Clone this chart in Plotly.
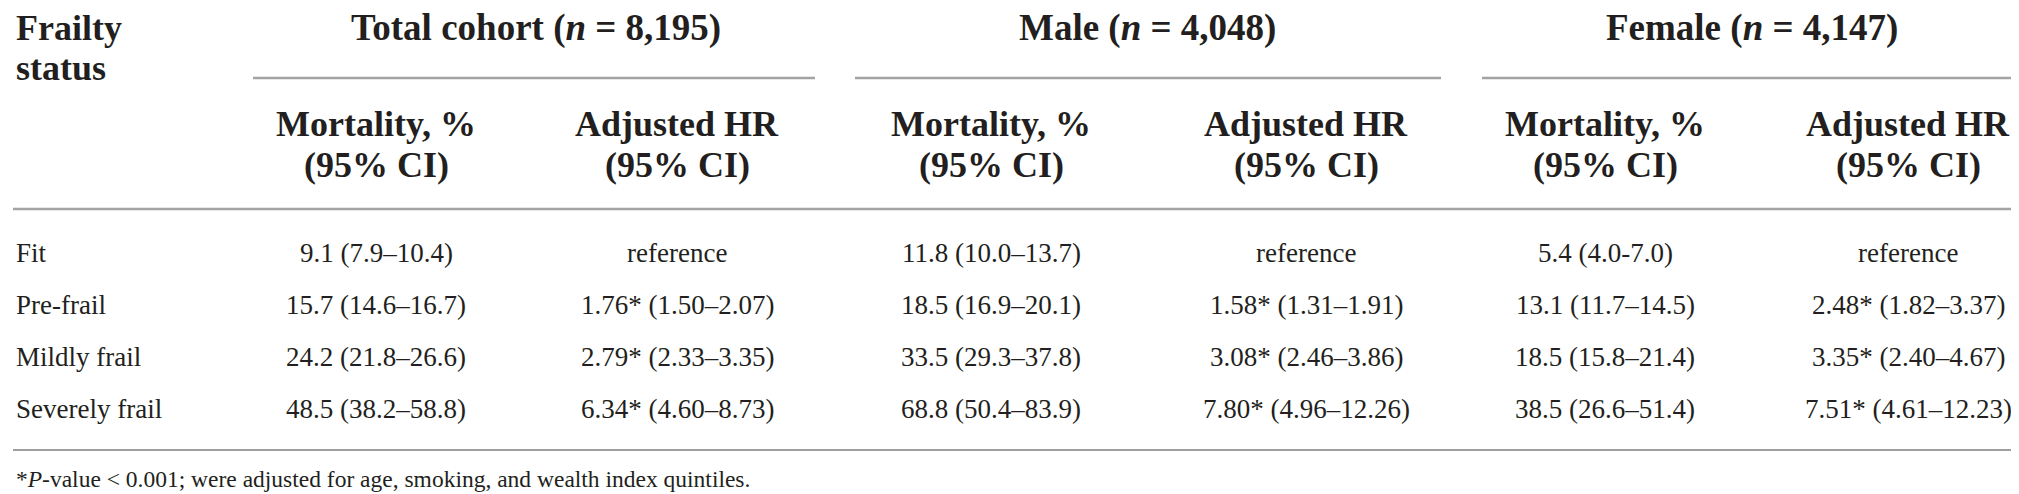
import plotly.graph_objects as go

# ---------------- data ----------------
frailty_status = ["Fit", "Pre-frail", "Mildly frail", "Severely frail"]

total_mortality = ["9.1 (7.9–10.4)", "15.7 (14.6–16.7)", "24.2 (21.8–26.6)", "48.5 (38.2–58.8)"]
total_hr = ["reference", "1.76* (1.50–2.07)", "2.79* (2.33–3.35)", "6.34* (4.60–8.73)"]

male_mortality = ["11.8 (10.0–13.7)", "18.5 (16.9–20.1)", "33.5 (29.3–37.8)", "68.8 (50.4–83.9)"]
male_hr = ["reference", "1.58* (1.31–1.91)", "3.08* (2.46–3.86)", "7.80* (4.96–12.26)"]

female_mortality = ["5.4 (4.0-7.0)", "13.1 (11.7–14.5)", "18.5 (15.8–21.4)", "38.5 (26.6–51.4)"]
female_hr = ["reference", "2.48* (1.82–3.37)", "3.35* (2.40–4.67)", "7.51* (4.61–12.23)"]

group_names = ["Total cohort", "Male", "Female"]
group_n = ["8,195", "4,048", "4,147"]
sub_header_1 = ["Mortality, %", "Adjusted HR"]
sub_header_2 = ["(95% CI)", "(95% CI)"]
stub_header = ["Frailty", "status"]
footnote = "*P-value < 0.001; were adjusted for age, smoking, and wealth index quintiles."

# ---------------- layout constants ----------------
W, H = 2019, 494
FONT = "Liberation Serif"
TXT = "#231f20"
HEAD_SIZE = 36
GROUP_SIZE = 37
BODY_SIZE = 27
NOTE_SIZE = 23.5

group_centers = [528, 1139, 1744]
group_lines = [(245, 807), (847, 1433), (1474, 2012)]
col_centers = [368, 669, 983, 1298, 1597, 1900]
row_baselines = [254, 306, 358, 410]


def center_y(baseline, size):
    return baseline - 0.33 * size


annotations = []


def add(text, x, y, size, bold=False, anchor="center"):
    annotations.append(dict(
        text=text, x=x, y=y, xref="x", yref="y",
        xanchor=anchor, yanchor="middle", showarrow=False,
        font=dict(family=FONT, size=size, color=TXT,
                  weight="bold" if bold else "normal"),
    ))


# stub header
add(stub_header[0], 6, center_y(32, HEAD_SIZE), HEAD_SIZE, bold=True, anchor="left")
add(stub_header[1], 6, center_y(72, HEAD_SIZE), HEAD_SIZE, bold=True, anchor="left")

# group headers
for name, n, cx in zip(group_names, group_n, group_centers):
    add(f"{name} (<i>n</i> = {n})", cx, center_y(32, GROUP_SIZE), GROUP_SIZE, bold=True)

# column headers
for i, cx in enumerate(col_centers):
    add(sub_header_1[i % 2], cx, center_y(128, HEAD_SIZE), HEAD_SIZE, bold=True)
    add(sub_header_2[i % 2], cx, center_y(169, HEAD_SIZE), HEAD_SIZE, bold=True)

# body
columns = [total_mortality, total_hr, male_mortality, male_hr, female_mortality, female_hr]
for r, status in enumerate(frailty_status):
    yb = center_y(row_baselines[r], BODY_SIZE)
    add(status, 6, yb, BODY_SIZE, anchor="left")
    for c, col in enumerate(columns):
        add(col[r], col_centers[c], yb, BODY_SIZE)

# footnote
note_html = "*<i>P</i>" + footnote[2:].replace("<", "&lt;")
add(note_html, 6, center_y(479, NOTE_SIZE), NOTE_SIZE, anchor="left")

# rules
shapes = []
for x0, x1 in group_lines:
    shapes.append(dict(type="line", xref="x", yref="y", x0=x0, x1=x1, y0=70, y1=70,
                       line=dict(color="#a3a3a3", width=2.5)))
shapes.append(dict(type="line", xref="x", yref="y", x0=5, x1=2013, y0=201, y1=201,
                   line=dict(color="#a3a3a3", width=2.5)))
shapes.append(dict(type="line", xref="x", yref="y", x0=5, x1=2013, y0=442, y1=442,
                   line=dict(color="#7f7f7f", width=1.5)))

fig = go.Figure()
fig.update_layout(
    width=W, height=H,
    margin=dict(l=0, r=0, t=0, b=0),
    paper_bgcolor="white", plot_bgcolor="white",
    xaxis=dict(range=[0, W], visible=False, fixedrange=True),
    yaxis=dict(range=[H, 0], visible=False, fixedrange=True),
    annotations=annotations, shapes=shapes,
    showlegend=False,
)
fig.write_html("out.html", config={"displayModeBar": False})
